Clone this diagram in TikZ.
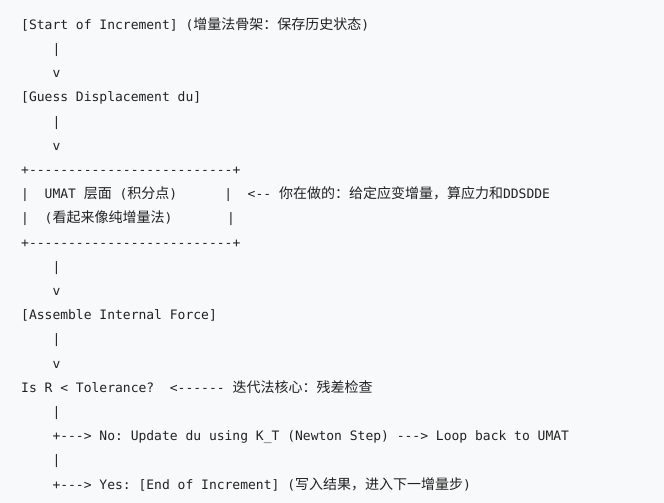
\documentclass[tikz,border=0pt]{standalone}
\usepackage{fontspec}
\setmonofont{DejaVu Sans Mono}
\newfontfamily\zhfont{Noto Sans CJK SC}
\definecolor{codebg}{HTML}{F8F9FA}
\definecolor{codefg}{HTML}{222222}
\newcommand{\zh}[1]{{\zhfont\fontsize{14}{16}\selectfont #1}}
\tikzset{
  codeline/.style={anchor=base west, inner sep=0pt, text=codefg,
    font=\ttfamily\fontsize{13}{15}\selectfont},
}

\begin{document}
\begin{tikzpicture}[x=1pt,y=-1pt]
\fill[codebg] (0,0) rectangle (664,503);
\useasboundingbox (0,0) rectangle (664,503);
% text column starts at 21, the arrow column at 52.3, rows 24.2 apart
\node[codeline] (start) at (21,29.3) {[Start of Increment] (\zh{增量法骨架：保存历史状态})};
\node[codeline] (bar1) at (52.3,53.5) {|};
\node[codeline] (tip1) at (52.3,77.7) {v};
\node[codeline] (guess) at (21,101.9) {[Guess Displacement du]};
\node[codeline] (bar2) at (52.3,126.1) {|};
\node[codeline] (tip2) at (52.3,150.3) {v};
\node[codeline] (umattop) at (21,174.5) {+--------------------------+};
\node[codeline] (umat) at (21,198.7) {|\ \ UMAT \zh{层面} (\zh{积分点})\ \ \ \ \ \ |\ \ <-- \zh{你在做的：给定应变增量，算应力和}DDSDDE};
\node[codeline] (umatnote) at (21,222.9) {|\ \ (\zh{看起来像纯增量法})\ \ \ \ \ \ \ |};
\node[codeline] (umatbot) at (21,247.1) {+--------------------------+};
\node[codeline] (bar3) at (52.3,271.3) {|};
\node[codeline] (tip3) at (52.3,295.5) {v};
\node[codeline] (force) at (21,319.7) {[Assemble Internal Force]};
\node[codeline] (bar4) at (52.3,343.9) {|};
\node[codeline] (tip4) at (52.3,368.1) {v};
\node[codeline] (check) at (21,392.3) {Is R < Tolerance?\ \ <------ \zh{迭代法核心：残差检查}};
\node[codeline] (bar5) at (52.3,416.5) {|};
\node[codeline] (no) at (52.3,440.7) {+---> No: Update du using K\_T (Newton Step) ---> Loop back to UMAT};
\node[codeline] (bar6) at (52.3,464.9) {|};
\node[codeline] (yes) at (52.3,489.1) {+---> Yes: [End of Increment] (\zh{写入结果，进入下一增量步})};
\end{tikzpicture}
\end{document}
